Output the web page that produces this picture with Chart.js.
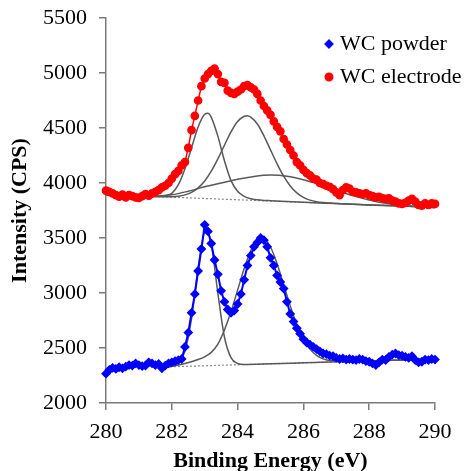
<!DOCTYPE html>
<html>
<head>
<meta charset="utf-8">
<script src="https://cdn.jsdelivr.net/npm/chart.js@4.4.1/dist/chart.umd.min.js"></script>
<style>
  html, body { margin: 0; padding: 0; background: #fff; }
</style>
</head>
<body>
<canvas id="xps" width="466" height="471"></canvas>
<script>
// binding energy axis of both spectra (eV)
const energy = [
  280.0, 280.1, 280.2, 280.3, 280.4, 280.5, 280.6, 280.7, 280.8, 280.9,
  281.0, 281.1, 281.2, 281.3, 281.4, 281.5, 281.6, 281.7, 281.8, 281.9,
  282.0, 282.1, 282.2, 282.3, 282.4, 282.5, 282.6, 282.7, 282.8, 282.9,
  283.0, 283.1, 283.2, 283.3, 283.4, 283.5, 283.6, 283.7, 283.8, 283.9,
  284.0, 284.1, 284.2, 284.3, 284.4, 284.5, 284.6, 284.7, 284.8, 284.9,
  285.0, 285.1, 285.2, 285.3, 285.4, 285.5, 285.6, 285.7, 285.8, 285.9,
  286.0, 286.1, 286.2, 286.3, 286.4, 286.5, 286.6, 286.7, 286.8, 286.9,
  287.0, 287.1, 287.2, 287.3, 287.4, 287.5, 287.6, 287.7, 287.8, 287.9,
  288.0, 288.1, 288.2, 288.3, 288.4, 288.5, 288.6, 288.7, 288.8, 288.9,
  289.0, 289.1, 289.2, 289.3, 289.4, 289.5, 289.6, 289.7, 289.8, 289.9,
  290.0
];

// WC powder, measured counts
const powder = [
  2267, 2300, 2320, 2310, 2325, 2315, 2330, 2345, 2340, 2360,
  2345, 2335, 2340, 2370, 2360, 2345, 2355, 2315, 2340, 2360,
  2370, 2380, 2390, 2400, 2510, 2640, 2820, 2990, 3200, 3400,
  3620, 3560, 3450, 3300, 3170, 3020, 2920, 2850, 2820, 2840,
  2900, 2990, 3120, 3250, 3340, 3420, 3460, 3500, 3480, 3420,
  3320, 3250, 3160, 3100, 3040, 2920, 2810, 2740, 2680, 2630,
  2580, 2550, 2530, 2510, 2490, 2470, 2450, 2445, 2430, 2425,
  2410, 2400, 2405, 2395, 2400, 2395, 2390, 2400, 2395, 2380,
  2375, 2360, 2345, 2370, 2395, 2390, 2420, 2440, 2450, 2435,
  2430, 2420, 2410, 2425, 2390, 2370, 2375, 2395, 2390, 2400,
  2395
];

// WC electrode, measured counts
const electrode = [
  3930, 3920, 3905, 3890, 3875, 3895, 3870, 3890, 3880, 3870,
  3865, 3880, 3900, 3885, 3905, 3920, 3935, 3960, 3975, 4000,
  4040, 4080, 4110, 4160, 4190, 4320, 4480, 4610, 4750, 4880,
  4950, 4990, 5020, 5040, 4990, 4920, 4910, 4840, 4820, 4810,
  4830, 4850, 4880, 4890, 4870, 4850, 4810, 4750, 4700, 4660,
  4620, 4560, 4510, 4470, 4400, 4350, 4300, 4250, 4190, 4160,
  4120, 4090, 4070, 4040, 4030, 4000, 3990, 3975, 3965, 3945,
  3915, 3890, 3935, 3960, 3950, 3920, 3915, 3905, 3900, 3905,
  3890, 3880, 3870, 3875, 3860, 3855, 3860, 3840, 3830, 3815,
  3810, 3820, 3840, 3855, 3830, 3800, 3795, 3815, 3800, 3815,
  3810
];

// fitted components
const elBaseE = [280, 290];
const elBase = [3894, 3778];
const elPk1E = [280, 281, 281.6, 281.8, 282.0, 282.2, 282.4, 282.6, 282.8, 283.0, 283.1, 283.2, 283.4, 283.6, 283.8, 284.0, 284.2, 284.4, 284.6, 284.8, 285.0, 286, 287, 288, 289, 290];
const elPk1 = [3894, 3882, 3880, 3886, 3906, 3985, 4130, 4320, 4510, 4625, 4635, 4597, 4426, 4202, 4022, 3925, 3878, 3856, 3847, 3842, 3839, 3825, 3813, 3801, 3790, 3778];
const elPk2E = [280, 281, 281.6, 282.0, 282.2, 282.4, 282.6, 282.8, 283.0, 283.2, 283.4, 283.6, 283.8, 284.0, 284.2, 284.3, 284.4, 284.6, 284.8, 285.0, 285.2, 285.4, 285.6, 285.8, 286.0, 286.2, 286.4, 286.6, 287, 288, 289, 290];
const elPk2 = [3894, 3882, 3875, 3876, 3880, 3892, 3915, 3956, 4018, 4107, 4219, 4343, 4465, 4559, 4607, 4612, 4599, 4536, 4429, 4301, 4174, 4062, 3973, 3910, 3869, 3844, 3830, 3822, 3813, 3801, 3790, 3778];
const elPk3E = [280, 281, 281.5, 282, 282.5, 283, 283.5, 284, 284.5, 285, 285.5, 286, 286.5, 287, 287.5, 288, 288.5, 289, 289.5, 290];
const elPk3 = [3894, 3882, 3880, 3893, 3925, 3965, 4000, 4035, 4060, 4072, 4062, 4030, 3985, 3935, 3885, 3845, 3815, 3798, 3786, 3778];

const pwBaseE = [281.7, 290];
const pwBase = [2327, 2400];
const pwPk1E = [281.7, 282.0, 282.2, 282.4, 282.6, 282.8, 283.0, 283.05, 283.2, 283.4, 283.6, 283.8, 284.0, 284.2, 285, 286, 287, 288, 289, 290];
const pwPk1 = [2327, 2334, 2360, 2470, 2768, 3232, 3563, 3580, 3444, 2998, 2600, 2412, 2359, 2350, 2356, 2365, 2374, 2382, 2391, 2400];
const pwPk2E = [281.7, 282.0, 282.4, 282.8, 283.0, 283.2, 283.4, 283.6, 283.8, 284.0, 284.2, 284.4, 284.6, 284.72, 284.8, 285.0, 285.2, 285.4, 285.6, 285.8, 286.0, 286.2, 286.4, 286.6, 286.8, 287.0, 288, 289, 290];
const pwPk2 = [2327, 2335, 2360, 2395, 2420, 2460, 2536, 2664, 2831, 3026, 3222, 3386, 3485, 3505, 3497, 3418, 3267, 3077, 2883, 2713, 2581, 2490, 2433, 2401, 2386, 2380, 2382, 2391, 2400];

const FONT = "'Liberation Serif', 'Times New Roman', serif";
const AXIS_GRAY = '#7a7a7a';
const FIT_GRAY = '#595959';

const pts = (xs, ys) => xs.map((x, i) => ({x: x, y: ys[i]}));

function fitLine(xs, ys) {
  return {
    data: pts(xs, ys),
    showLine: true,
    borderColor: FIT_GRAY,
    borderWidth: 1.5,
    pointRadius: 0,
    cubicInterpolationMode: 'monotone',
    order: 2,
  };
}

function baseLine(xs, ys) {
  return {
    data: pts(xs, ys),
    showLine: true,
    borderColor: '#888',
    borderWidth: 1.2,
    borderDash: [2, 2],
    pointRadius: 0,
    order: 3,
  };
}

const datasets = [
  {
    label: 'WC powder',
    data: pts(energy, powder),
    showLine: true,
    borderColor: '#0000ff',
    backgroundColor: '#0000ff',
    borderWidth: 2,
    pointStyle: 'rectRot',
    pointRadius: 3.5,
    clip: false,
    order: 0,
    legend: true,
  },
  {
    label: 'WC electrode',
    data: pts(energy, electrode),
    showLine: true,
    borderColor: '#ff0000',
    backgroundColor: '#ff0000',
    borderWidth: 1.5,
    pointStyle: 'circle',
    pointRadius: 3.6,
    clip: false,
    order: 1,
    legend: true,
  },
  fitLine(elPk1E, elPk1),
  fitLine(elPk2E, elPk2),
  fitLine(elPk3E, elPk3),
  baseLine(elBaseE, elBase),
  fitLine(pwPk1E, pwPk1),
  fitLine(pwPk2E, pwPk2),
  baseLine(pwBaseE, pwBase),
];

// legend sits inside the plot, upper right
const cornerLegend = {
  id: 'cornerLegend',
  afterDraw(chart) {
    const ctx = chart.ctx;
    const rows = chart.data.datasets.filter(d => d.legend);
    ctx.save();
    ctx.font = '22px ' + FONT;
    ctx.textBaseline = 'middle';
    ctx.textAlign = 'left';
    rows.forEach((ds, i) => {
      const y = 44 + i * 33;
      ctx.fillStyle = ds.backgroundColor;
      ctx.strokeStyle = ds.borderColor;
      Chart.helpers.drawPoint(ctx, {pointStyle: ds.pointStyle, radius: 3.5, rotation: 0, borderWidth: 1}, 329, y);
      ctx.fillStyle = '#000';
      ctx.fillText(ds.label, 340, y);
    });
    ctx.restore();
  }
};

new Chart(document.getElementById('xps'), {
  type: 'scatter',
  data: { datasets },
  plugins: [cornerLegend],
  options: {
    responsive: false,
    animation: false,
    layout: { padding: { top: 18, right: 31, left: 0, bottom: 0 } },
    plugins: { legend: { display: false }, tooltip: { enabled: false } },
    scales: {
      x: {
        type: 'linear',
        min: 280,
        max: 290,
        afterFit(s) { s.height = 68; s.paddingLeft = 0; s.paddingRight = 0; },
        border: { color: AXIS_GRAY, width: 1.5 },
        grid: { drawOnChartArea: false, tickLength: 7, color: AXIS_GRAY, lineWidth: 1.5 },
        ticks: { stepSize: 2, color: '#000', font: { family: FONT, size: 22 }, padding: 9, callback: v => String(v) },
        title: {
          display: true,
          text: 'Binding Energy (eV)',
          color: '#000',
          font: { family: FONT, size: 22, weight: 'bold', lineHeight: 0.85 },
          padding: { top: 0, bottom: 0 },
        },
      },
      y: {
        min: 2000,
        max: 5500,
        afterFit(s) { s.width = 106; s.paddingTop = 0; s.paddingBottom = 0; },
        border: { color: AXIS_GRAY, width: 1.5 },
        grid: { drawOnChartArea: false, tickLength: 7, color: AXIS_GRAY, lineWidth: 1.5 },
        ticks: { stepSize: 500, color: '#000', font: { family: FONT, size: 22 }, padding: 12, callback: v => String(v) },
        title: {
          display: true,
          text: 'Intensity (CPS)',
          color: '#000',
          font: { family: FONT, size: 22, weight: 'bold', lineHeight: 1 },
          padding: { top: 9, bottom: 0 },
        },
      },
    },
  },
});
</script>
</body>
</html>
